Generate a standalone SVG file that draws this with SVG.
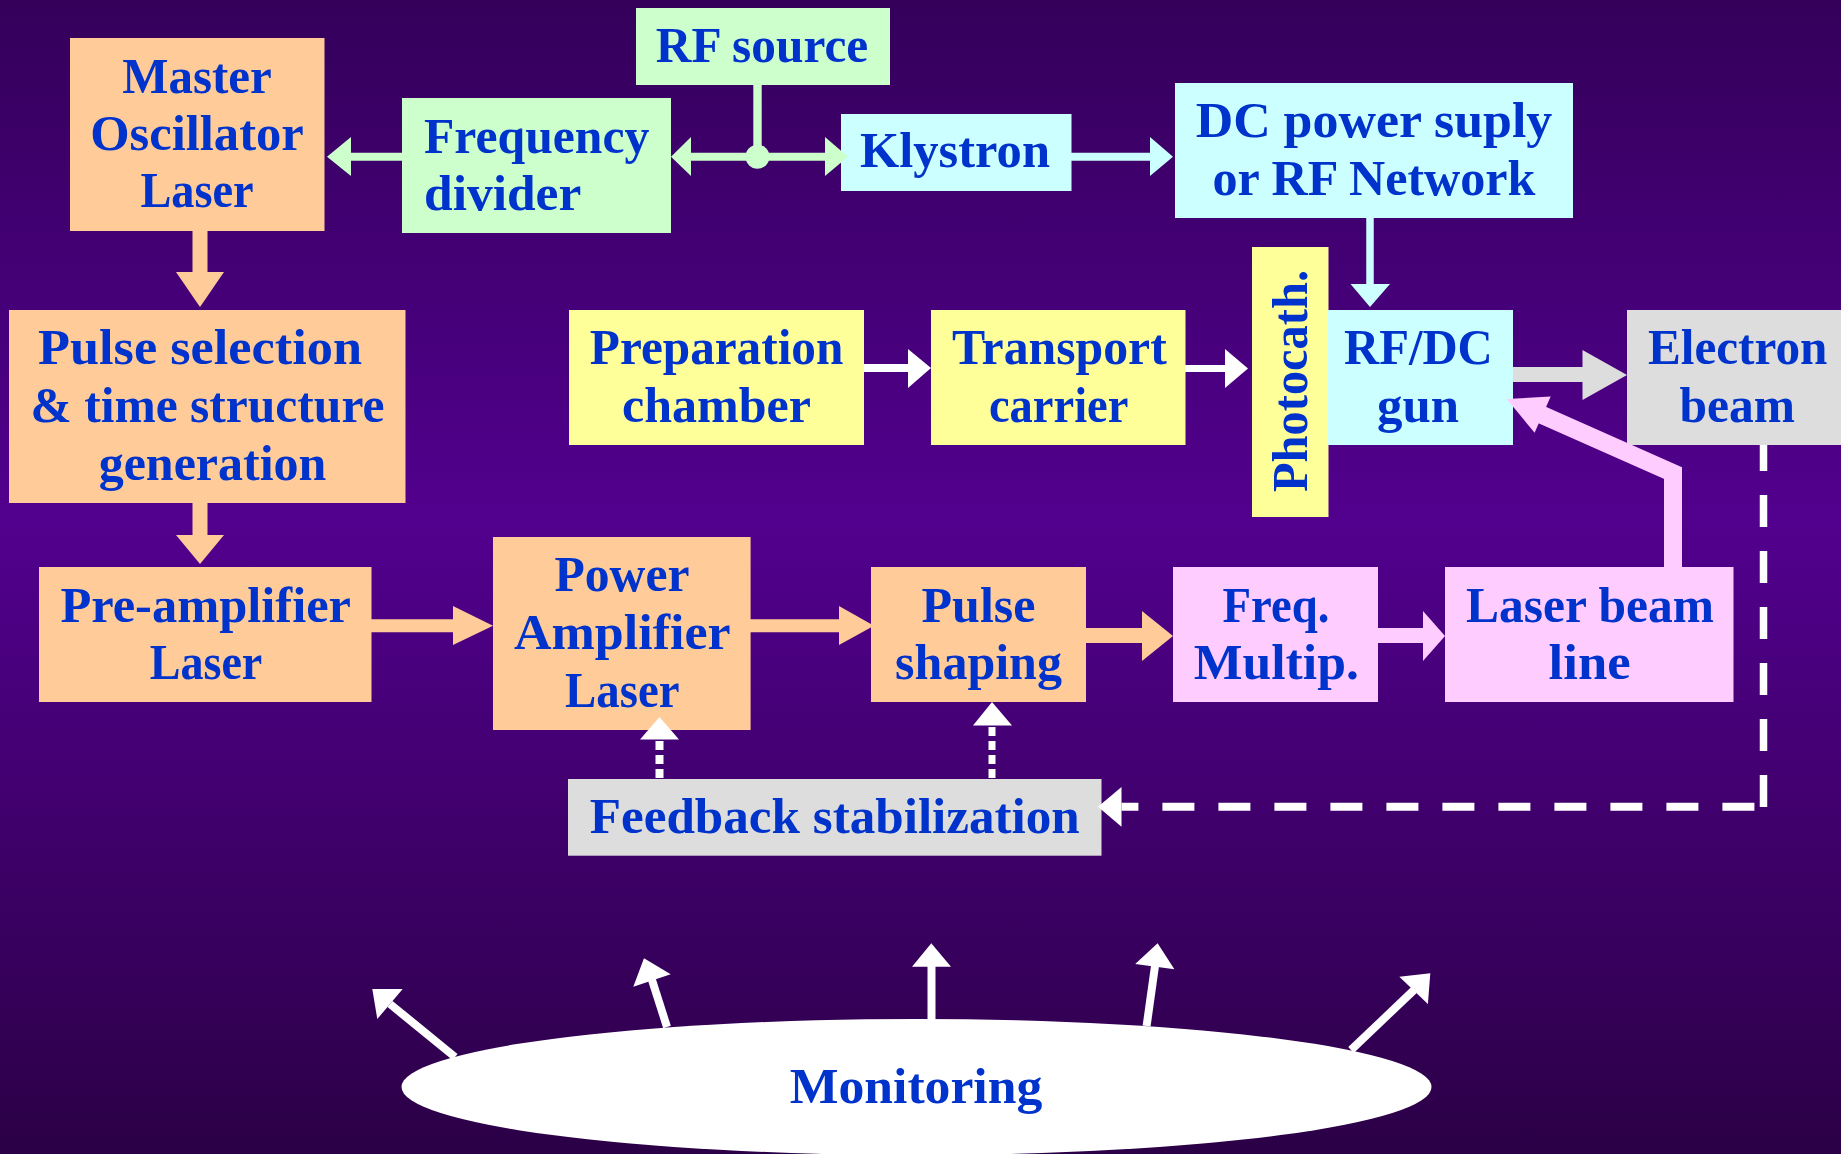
<svg xmlns="http://www.w3.org/2000/svg" width="1841" height="1154" viewBox="0 0 1841 1154">
  <defs>
    <linearGradient id="bg" x1="0" y1="0" x2="0" y2="1">
      <stop offset="0" stop-color="#34005a"/>
      <stop offset="0.45" stop-color="#52008e"/>
      <stop offset="1" stop-color="#2b0046"/>
    </linearGradient>
  </defs>
  <style>
    text { font-family: "Liberation Serif", "Times New Roman", serif; font-weight: bold; font-size: 50px; fill: #0033cc; text-anchor: middle; }
    .orange { fill: #ffcc99; }
    .green { fill: #ccffcc; }
    .cyan { fill: #ccffff; }
    .yellow { fill: #ffff99; }
    .pink { fill: #ffccff; }
    .grey { fill: #dddddd; }
    .white { fill: #ffffff; }
    .s-orange { stroke: #ffcc99; fill: none; }
    .s-green { stroke: #ccffcc; fill: none; }
    .s-cyan { stroke: #ccffff; fill: none; }
    .s-pink { stroke: #ffccff; fill: none; }
    .s-grey { stroke: #dddddd; fill: none; }
    .s-white { stroke: #ffffff; fill: none; }
    .dots { stroke-dasharray: 9 5; }
    .dash { stroke-dasharray: 32 24; }
  </style>

  <rect x="0" y="0" width="1841" height="1154" fill="url(#bg)"/>

  <!-- laser chain -->
  <g id="master-oscillator">
    <rect class="orange" x="70" y="38" width="254.5" height="193"/>
    <text x="197" y="93.3" textLength="149.5" lengthAdjust="spacingAndGlyphs">Master</text>
    <text x="197" y="150" textLength="213.6" lengthAdjust="spacingAndGlyphs">Oscillator</text>
    <text x="197" y="207.3" textLength="113.2" lengthAdjust="spacingAndGlyphs">Laser</text>
  </g>
  <g id="frequency-divider">
    <rect class="green" x="402" y="98" width="269" height="135"/>
    <text x="424" y="153.3" style="text-anchor:start" textLength="225.3" lengthAdjust="spacingAndGlyphs">Frequency</text>
    <text x="424" y="210" style="text-anchor:start" textLength="157.3" lengthAdjust="spacingAndGlyphs">divider</text>
  </g>
  <g id="rf-source">
    <rect class="green" x="636" y="8" width="254" height="77"/>
    <text x="762" y="61.7" textLength="212.5" lengthAdjust="spacingAndGlyphs">RF source</text>
  </g>
  <g id="klystron">
    <rect class="cyan" x="841" y="114" width="230.5" height="77"/>
    <text x="955" y="166.7" textLength="190" lengthAdjust="spacingAndGlyphs">Klystron</text>
  </g>
  <g id="dc-power">
    <rect class="cyan" x="1175" y="83" width="398" height="135"/>
    <text x="1374" y="137.3" textLength="356.6" lengthAdjust="spacingAndGlyphs">DC power suply</text>
    <text x="1374" y="195" textLength="323" lengthAdjust="spacingAndGlyphs">or RF Network</text>
  </g>
  <g id="pulse-selection">
    <rect class="orange" x="9" y="310" width="396.5" height="193"/>
    <text x="200" y="364" textLength="324" lengthAdjust="spacingAndGlyphs">Pulse selection</text>
    <text x="207.5" y="421.7" textLength="354" lengthAdjust="spacingAndGlyphs">&amp; time structure</text>
    <text x="212.5" y="479.5">generation</text>
  </g>
  <g id="preparation-chamber">
    <rect class="yellow" x="569" y="310" width="295" height="135"/>
    <text x="716.6" y="364" textLength="253.5" lengthAdjust="spacingAndGlyphs">Preparation</text>
    <text x="716.5" y="421.7" textLength="189" lengthAdjust="spacingAndGlyphs">chamber</text>
  </g>
  <g id="transport-carrier">
    <rect class="yellow" x="931" y="310" width="254.5" height="135"/>
    <text x="1059.4" y="364.3" textLength="214.7" lengthAdjust="spacingAndGlyphs">Transport</text>
    <text x="1058.7" y="421.7" textLength="139.5" lengthAdjust="spacingAndGlyphs">carrier</text>
  </g>
  <g id="photocathode">
    <rect class="yellow" x="1252" y="247" width="76.5" height="270"/>
    <text transform="translate(1306.7,381) rotate(-90)" x="0" y="0" textLength="222" lengthAdjust="spacingAndGlyphs">Photocath.</text>
  </g>
  <g id="rf-dc-gun">
    <rect class="cyan" x="1328" y="310" width="185" height="135"/>
    <text x="1418.4" y="364.3" textLength="148.7" lengthAdjust="spacingAndGlyphs">RF/DC</text>
    <text x="1418" y="421.7" textLength="82" lengthAdjust="spacingAndGlyphs">gun</text>
  </g>
  <g id="electron-beam">
    <rect class="grey" x="1627" y="310" width="225" height="135"/>
    <text x="1737.7" y="364.3" textLength="179.5" lengthAdjust="spacingAndGlyphs">Electron</text>
    <text x="1737.3" y="421.7" textLength="115.5" lengthAdjust="spacingAndGlyphs">beam</text>
  </g>
  <g id="pre-amplifier">
    <rect class="orange" x="39" y="567" width="332.5" height="135"/>
    <text x="205.7" y="621.7" textLength="290.6" lengthAdjust="spacingAndGlyphs">Pre-amplifier</text>
    <text x="206" y="679.3" textLength="112.7" lengthAdjust="spacingAndGlyphs">Laser</text>
  </g>
  <g id="power-amplifier">
    <rect class="orange" x="493" y="537" width="257.6" height="193"/>
    <text x="622" y="591" textLength="135" lengthAdjust="spacingAndGlyphs">Power</text>
    <text x="622.3" y="649.3" textLength="216.6" lengthAdjust="spacingAndGlyphs">Amplifier</text>
    <text x="622.3" y="706.7" textLength="114.4" lengthAdjust="spacingAndGlyphs">Laser</text>
  </g>
  <g id="pulse-shaping">
    <rect class="orange" x="871" y="567" width="215" height="135"/>
    <text x="978.5" y="621.7">Pulse</text>
    <text x="978.5" y="679.3">shaping</text>
  </g>
  <g id="freq-multiplier">
    <rect class="pink" x="1173" y="567" width="205" height="135"/>
    <text x="1276" y="621.7" textLength="106.9" lengthAdjust="spacingAndGlyphs">Freq.</text>
    <text x="1276.3" y="679.3" textLength="165" lengthAdjust="spacingAndGlyphs">Multip.</text>
  </g>
  <g id="laser-beam-line">
    <rect class="pink" x="1445" y="567" width="288.5" height="135"/>
    <text x="1590" y="621.7" textLength="248" lengthAdjust="spacingAndGlyphs">Laser beam</text>
    <text x="1589.6" y="679.3" textLength="82" lengthAdjust="spacingAndGlyphs">line</text>
  </g>
  <g id="feedback-stabilization">
    <rect class="grey" x="568" y="779" width="533.5" height="76.7"/>
    <text x="834.8" y="832.7" textLength="490" lengthAdjust="spacingAndGlyphs">Feedback stabilization</text>
  </g>
  <g id="monitoring">
    <ellipse class="white" cx="916.5" cy="1087" rx="515" ry="68"/>
    <text x="916" y="1102.7" textLength="252.5" lengthAdjust="spacingAndGlyphs">Monitoring</text>
  </g>

  <g id="connectors">
    <!-- oscillator -> pulse selection -> pre-amplifier -->
    <line class="s-orange" x1="200" y1="230" x2="200" y2="273" stroke-width="15"/>
    <polygon class="orange" points="176,272 224,272 200,307"/>
    <line class="s-orange" x1="200" y1="502" x2="200" y2="536" stroke-width="15"/>
    <polygon class="orange" points="176,535 224,535 200,564"/>

    <!-- amplifier chain -->
    <line class="s-orange" x1="371" y1="625.7" x2="454" y2="625.7" stroke-width="13"/>
    <polygon class="orange" points="453,606 453,645 493,625.7"/>
    <line class="s-orange" x1="750" y1="625.7" x2="840" y2="625.7" stroke-width="13"/>
    <polygon class="orange" points="839,606 839,645 874,625.7"/>
    <line class="s-orange" x1="1086" y1="635.5" x2="1143" y2="635.5" stroke-width="15"/>
    <polygon class="orange" points="1142,611 1142,661 1173,636"/>
    <line class="s-pink" x1="1378" y1="635.5" x2="1424" y2="635.5" stroke-width="15"/>
    <polygon class="pink" points="1423,611 1423,661 1445,636"/>

    <!-- RF distribution -->
    <line class="s-green" x1="350" y1="156.7" x2="402" y2="156.7" stroke-width="8"/>
    <polygon class="green" points="351,137 351,176 327,156.7"/>
    <line class="s-green" x1="690" y1="156.7" x2="826" y2="156.7" stroke-width="8"/>
    <polygon class="green" points="691,137 691,176 671,156.7"/>
    <polygon class="green" points="825,137 825,176 848,156.7"/>
    <line class="s-green" x1="757.5" y1="85" x2="757.5" y2="157" stroke-width="8.4"/>
    <circle class="green" cx="757.5" cy="156.7" r="12"/>
    <line class="s-cyan" x1="1071" y1="156.7" x2="1151" y2="156.7" stroke-width="8"/>
    <polygon class="cyan" points="1150,137 1150,176 1173,156.7"/>
    <line class="s-cyan" x1="1370" y1="218" x2="1370" y2="285" stroke-width="7.5"/>
    <polygon class="cyan" points="1350.5,284 1390,284 1370,307"/>

    <!-- cathode transport -->
    <line class="s-white" x1="864" y1="368" x2="909" y2="368" stroke-width="8"/>
    <polygon class="white" points="908,349 908,388 931,368"/>
    <line class="s-white" x1="1185" y1="368.5" x2="1226" y2="368.5" stroke-width="7"/>
    <polygon class="white" points="1225,349 1225,388 1248,368.5"/>

    <!-- gun output -->
    <line class="s-grey" x1="1513" y1="374.5" x2="1583" y2="374.5" stroke-width="15"/>
    <polygon class="grey" points="1582.5,350 1582.5,400 1627,375"/>

    <!-- laser beam to gun -->
    <polyline class="s-pink" points="1673,567 1673,473 1541,414.5" stroke-width="18" stroke-linejoin="miter"/>
    <polygon class="pink" points="1506.7,399 1550.7,396.5 1534.6,432.7"/>

    <!-- feedback loop -->
    <line class="s-white dots" x1="659.5" y1="778" x2="659.5" y2="739" stroke-width="8"/>
    <polygon class="white" points="640,739.5 679,739.5 659.5,717"/>
    <line class="s-white dots" x1="992" y1="778" x2="992" y2="725" stroke-width="7"/>
    <polygon class="white" points="973,725.5 1012,725.5 992,702"/>
    <line class="s-white dash" x1="1763.5" y1="445" x2="1763.5" y2="807" stroke-width="7.5" stroke-dashoffset="6"/>
    <line class="s-white dash" x1="1754.4" y1="806.7" x2="1121.5" y2="806.7" stroke-width="8"/>
    <polygon class="white" points="1121.5,787 1121.5,826.7 1098,806.7"/>

    <!-- monitoring outputs -->
    <line class="s-white" x1="455" y1="1057" x2="390" y2="1004" stroke-width="8"/>
    <polygon class="white" points="372.3,989 402.7,989 377.3,1019"/>
    <line class="s-white" x1="667" y1="1027" x2="652" y2="980" stroke-width="8"/>
    <polygon class="white" points="644,958.3 670.7,974.3 633.3,986.7"/>
    <line class="s-white" x1="931.5" y1="1020" x2="931.5" y2="966" stroke-width="8"/>
    <polygon class="white" points="931.3,943.3 912,966.7 951,966.7"/>
    <line class="s-white" x1="1146.6" y1="1026" x2="1155" y2="966" stroke-width="8"/>
    <polygon class="white" points="1157.6,943.3 1135.2,964 1174.4,969.3"/>
    <line class="s-white" x1="1351" y1="1050" x2="1414" y2="990" stroke-width="8"/>
    <polygon class="white" points="1430.3,973.3 1399.3,976.7 1427.9,1004"/>
  </g>
</svg>
